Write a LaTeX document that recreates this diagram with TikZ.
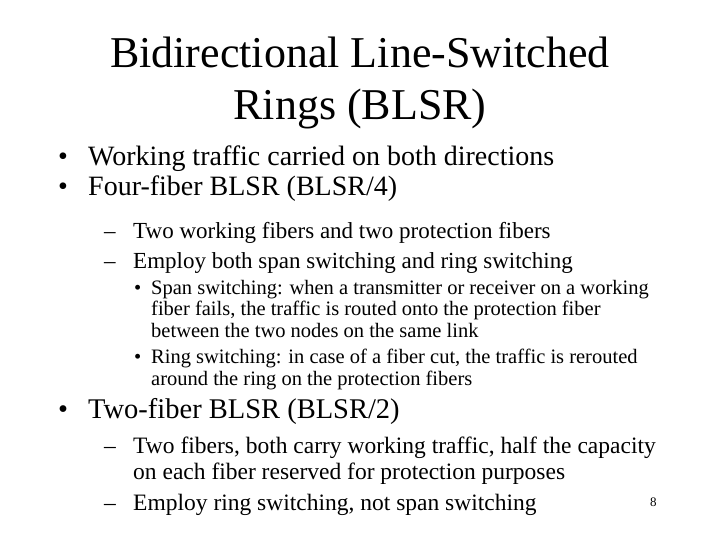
\documentclass[tikz,border=0pt]{standalone}
\usepackage{fontspec}
\setmainfont{Liberation Serif}
\begin{document}
\begin{tikzpicture}[x=1pt,y=-1pt,
  t/.style={anchor=base west,inner sep=0pt},
  lone/.style={t,font=\fontsize{28}{32}\selectfont},
  ltwo/.style={t,font=\fontsize{23}{28}\selectfont},
  lthree/.style={t,font=\fontsize{20.5}{24}\selectfont},
  lfour/.style={t,font=\fontsize{23.5}{28}\selectfont}]
\useasboundingbox (0,0) rectangle (720,540);
\node[t,anchor=base,font=\fontsize{44}{50}\selectfont] (t1) at (360,68) {Bidirectional Line-Switched};
\node[t,anchor=base,font=\fontsize{44}{50}\selectfont] (t2) at (360,120) {Rings (BLSR)};
\node[lone] (b1) at (58,166) {•};
\node[lone] (a1) at (88,166) {Working traffic carried on both directions};
\node[lone] (b2) at (58,196) {•};
\node[lone] (a2) at (88,196) {Four-fiber BLSR (BLSR/4)};
\node[ltwo] (k1) at (104,238) {–};
\node[ltwo] (c1) at (133,238) {Two working fibers and two protection fibers};
\node[ltwo] (k2) at (104,268) {–};
\node[ltwo] (c2) at (133,268) {Employ both span switching and ring switching};
\node[lthree] (d1) at (134,294) {•};
\node[lthree] (e1) at (151,294) {Span switching: when a transmitter or receiver on a working};
\node[lthree] (e2) at (151,315) {fiber fails, the traffic is routed onto the protection fiber};
\node[lthree] (e3) at (151,337) {between the two nodes on the same link};
\node[lthree] (d2) at (134,363) {•};
\node[lthree] (e4) at (151,363) {Ring switching: in case of a fiber cut, the traffic is rerouted};
\node[lthree] (e5) at (151,385) {around the ring on the protection fibers};
\node[t,font=\fontsize{28.5}{32}\selectfont] (b3) at (58,418) {•};
\node[t,font=\fontsize{28.5}{32}\selectfont] (a3) at (88,418) {Two-fiber BLSR (BLSR/2)};
\node[lfour] (k3) at (104,453) {–};
\node[lfour] (f1) at (133,453) {Two fibers, both carry working traffic, half the capacity};
\node[lfour] (f2) at (133,479) {on each fiber reserved for protection purposes};
\node[lfour] (k4) at (104,510) {–};
\node[lfour] (f3) at (133,510) {Employ ring switching, not span switching};
\node[t,font=\fontsize{13}{15}\selectfont] (pg) at (650,506) {8};
\end{tikzpicture}
\end{document}
